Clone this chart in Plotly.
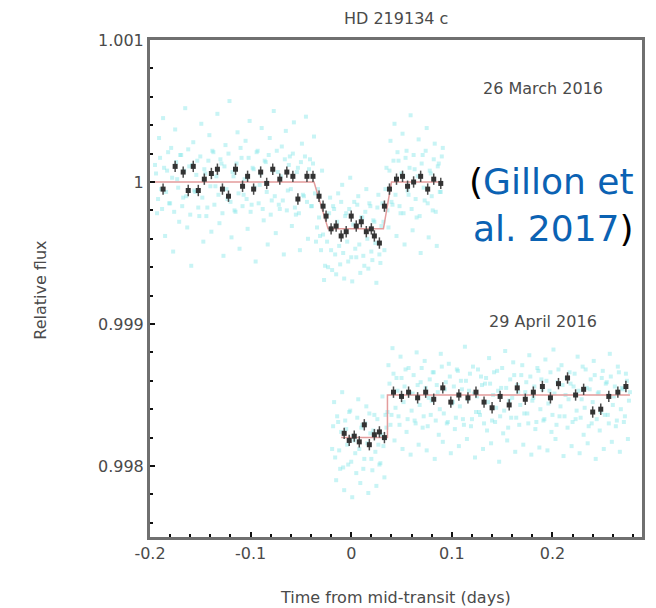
import plotly.graph_objects as go

# ---------------- data ----------------
# 26 March 2016: unbinned photometry (cyan), two interleaved exposure sets
t1_raw_x = [-0.195,-0.193,-0.191,-0.189,-0.187,-0.185,-0.183,-0.181,-0.179,-0.177,-0.175,-0.173,
            -0.171,-0.169,-0.167,-0.165,-0.163,-0.161,-0.159,-0.157,-0.155,-0.153,-0.151,-0.149,
            -0.147,-0.145,-0.143,-0.141,-0.139,-0.137,-0.135,-0.133,-0.131,-0.129,-0.127,-0.125,
            -0.123,-0.121,-0.119,-0.117,-0.115,-0.113,-0.111,-0.109,-0.107,-0.105,-0.103,-0.101,
            -0.099,-0.097,-0.095,-0.093,-0.091,-0.089,-0.087,-0.085,-0.083,-0.081,-0.079,-0.077,
            -0.075,-0.073,-0.071,-0.069,-0.067,-0.065,-0.063,-0.061,-0.059,-0.057,-0.055,-0.053,
            -0.051,-0.049,-0.047,-0.045,-0.043,-0.041,-0.039,-0.037,-0.035,-0.033,-0.031,-0.029,
            -0.027,-0.025,-0.023,-0.021,-0.019,-0.017,-0.015,-0.013,-0.011,-0.009,-0.007,-0.005,
            -0.003,-0.001,0.001,0.003,0.005,0.007,0.009,0.011,0.013,0.015,0.017,0.019,
            0.021,0.023,0.025,0.027,0.029,0.031,0.033,0.035,0.037,0.039,0.041,0.043,
            0.045,0.047,0.049,0.051,0.053,0.055,0.057,0.059,0.061,0.063,0.065,0.067,
            0.069,0.071,0.073,0.075,0.077,0.079,0.081,0.083,0.085,0.087,0.089,0.091]
t1_raw_y = [1.00012,0.99978,1.00031,0.99995,1.00045,0.99962,1.00008,0.99985,1.00024,0.99951,1.00037,1.00002,
            0.99972,1.00019,0.99989,1.00052,0.99968,1.00011,0.99941,1.00028,0.99993,1.00015,0.99976,1.00041,
            0.99958,1.00006,0.99982,1.00033,0.99965,1.00021,0.99997,1.00048,0.99971,1.00013,0.99948,1.00026,
            0.99988,1.00057,0.99961,1.00004,0.99979,1.00035,0.99953,1.00017,0.99991,1.00029,0.99967,1.00043,
            0.99984,1.00009,0.99944,1.00022,0.99998,1.00038,0.99973,1.00014,0.99956,1.00031,0.99987,1.00050,
            0.99964,1.00007,0.99981,1.00025,0.99949,1.00036,0.99994,1.00018,0.99969,1.00042,0.99977,1.00010,
            0.99952,1.00027,0.99990,1.00046,0.99960,1.00016,0.99983,1.00032,0.99958,0.99995,0.99962,1.00008,
            0.99931,0.99975,0.99940,0.99989,0.99938,0.99981,0.99935,0.99992,0.99942,0.99998,0.99932,0.99978,
            0.99944,1.00003,0.99930,0.99986,0.99947,0.99990,0.99936,0.99975,0.99941,0.99995,0.99939,0.99983,
            0.99945,0.99972,0.99929,0.99991,0.99943,0.99985,0.99952,1.00010,0.99968,1.00029,0.99984,1.00041,
            0.99962,1.00015,0.99978,1.00034,0.99956,1.00022,0.99991,1.00047,0.99966,1.00009,0.99975,1.00030,
            0.99950,1.00019,0.99987,1.00038,0.99961,1.00006,0.99980,1.00027,0.99955,1.00013,0.99993,1.00024]
t1_raw2_x = [-0.194,-0.192,-0.190,-0.188,-0.186,-0.184,-0.182,-0.180,-0.178,-0.176,-0.174,-0.172,
             -0.170,-0.168,-0.166,-0.164,-0.162,-0.160,-0.158,-0.156,-0.154,-0.152,-0.150,-0.148,
             -0.146,-0.144,-0.142,-0.140,-0.138,-0.136,-0.134,-0.132,-0.130,-0.128,-0.126,-0.124,
             -0.122,-0.120,-0.118,-0.116,-0.114,-0.112,-0.110,-0.108,-0.106,-0.104,-0.102,-0.100,
             -0.098,-0.096,-0.094,-0.092,-0.090,-0.088,-0.086,-0.084,-0.082,-0.080,-0.078,-0.076,
             -0.074,-0.072,-0.070,-0.068,-0.066,-0.064,-0.062,-0.060,-0.058,-0.056,-0.054,-0.052,
             -0.050,-0.048,-0.046,-0.044,-0.042,-0.040,-0.038,-0.036,-0.034,-0.032,-0.030,-0.028,
             -0.026,-0.024,-0.022,-0.020,-0.018,-0.016,-0.014,-0.012,-0.010,-0.008,-0.006,-0.004,
             -0.002,0.000,0.002,0.004,0.006,0.008,0.010,0.012,0.014,0.016,0.018,0.020,
             0.022,0.024,0.026,0.028,0.030,0.032,0.034,0.036,0.038,0.040,0.042,0.044,
             0.046,0.048,0.050,0.052,0.054,0.056,0.058,0.060,0.062,0.064,0.066,0.068,
             0.070,0.072,0.074,0.076,0.078,0.080,0.082,0.084,0.086,0.088,0.090]
t1_raw2_y = [1.00006,0.99988,1.00017,0.99981,1.00010,0.99993,1.00021,0.99985,1.00003,0.99979,1.00014,0.99996,
             1.00019,0.99983,1.00008,0.99990,1.00023,0.99977,1.00012,0.99994,1.00005,0.99982,1.00018,0.99989,
             1.00009,0.99976,1.00015,0.99997,1.00022,0.99984,1.00004,0.99991,1.00016,0.99978,1.00011,0.99995,
             1.00020,0.99986,1.00007,0.99980,1.00013,0.99992,1.00024,0.99983,1.00002,0.99988,1.00017,0.99979,
             1.00010,0.99996,1.00021,0.99985,1.00006,0.99981,1.00015,0.99993,1.00019,0.99977,1.00008,0.99990,
             1.00022,0.99984,1.00004,0.99987,1.00016,0.99980,1.00012,0.99995,1.00020,0.99982,1.00007,0.99978,
             1.00014,0.99991,1.00018,0.99986,1.00009,0.99983,1.00013,0.99992,0.99968,0.99975,0.99952,0.99963,
             0.99941,0.99958,0.99978,0.99952,0.99983,0.99949,0.99972,0.99955,0.99986,0.99950,0.99976,0.99958,
             0.99981,0.99947,0.99970,0.99953,0.99984,0.99956,0.99975,0.99948,0.99979,0.99960,0.99985,0.99951,
             0.99973,0.99957,0.99982,0.99949,0.99969,0.99972,0.99995,0.99980,1.00008,0.99986,1.00015,0.99991,
             1.00021,0.99983,1.00006,0.99978,1.00017,0.99994,1.00010,0.99981,1.00019,0.99988,1.00004,0.99976,
             1.00013,0.99996,1.00022,0.99985,1.00008,0.99990,1.00016,0.99979,1.00011,0.99993,1.00018]

# 26 March 2016: binned photometry (black)
t1_bin_x = [-0.187,-0.175,-0.167,-0.162,-0.157,-0.152,-0.146,-0.139,-0.133,-0.128,-0.122,-0.115,
            -0.108,-0.103,-0.097,-0.090,-0.084,-0.078,-0.071,-0.064,-0.058,-0.053,-0.044,-0.038,
            -0.032,-0.028,-0.025,-0.020,-0.015,-0.010,-0.005,0.000,0.005,0.010,0.015,0.020,
            0.023,0.028,0.033,0.038,0.045,0.051,0.056,0.062,0.069,0.076,0.082,0.089]
t1_bin_y = [0.99995,1.00011,1.00007,0.99994,1.00011,0.99994,1.00002,1.00006,1.00009,0.99995,0.99990,1.00009,
            0.99997,1.00004,0.99995,1.00007,0.99999,1.00009,1.00002,1.00007,1.00004,0.99988,1.00004,1.00004,
            0.99990,0.99983,0.99976,0.99967,0.99969,0.99962,0.99965,0.99976,0.99969,0.99972,0.99965,0.99967,
            0.99962,0.99957,0.99983,0.99995,1.00002,1.00004,0.99997,1.00000,1.00004,0.99995,1.00002,0.99999]

# 26 March 2016: transit model
t1_model_x = [-0.195, -0.037, -0.023, 0.032, 0.040, 0.091]
t1_model_y = [1.00000, 1.00000, 0.99967, 0.99967, 1.00000, 1.00000]

# 29 April 2016: unbinned photometry (cyan), two interleaved exposure sets
t2_raw_x = [-0.019,-0.017,-0.015,-0.013,-0.011,-0.009,-0.007,-0.005,-0.003,-0.001,0.001,0.003,
            0.005,0.007,0.009,0.011,0.013,0.015,0.017,0.019,0.021,0.023,0.025,0.027,
            0.029,0.031,0.033,0.035,0.037,0.039,0.041,0.043,0.045,0.047,0.049,0.051,
            0.053,0.055,0.057,0.059,0.061,0.063,0.065,0.067,0.069,0.071,0.073,0.075,
            0.077,0.079,0.081,0.083,0.085,0.087,0.089,0.091,0.093,0.095,0.097,0.099,
            0.101,0.103,0.105,0.107,0.109,0.111,0.113,0.115,0.117,0.119,0.121,0.123,
            0.125,0.127,0.129,0.131,0.133,0.135,0.137,0.139,0.141,0.143,0.145,0.147,
            0.149,0.151,0.153,0.155,0.157,0.159,0.161,0.163,0.165,0.167,0.169,0.171,
            0.173,0.175,0.177,0.179,0.181,0.183,0.185,0.187,0.189,0.191,0.193,0.195,
            0.197,0.199,0.201,0.203,0.205,0.207,0.209,0.211,0.213,0.215,0.217,0.219,
            0.221,0.223,0.225,0.227,0.229,0.231,0.233,0.235,0.237,0.239,0.241,0.243,
            0.245,0.247,0.249,0.251,0.253,0.255,0.257,0.259,0.261,0.263,0.265,0.267,
            0.269,0.271,0.273,0.275,0.277]
t2_raw_y = [0.99812,0.99845,0.99790,0.99831,0.99798,0.99852,0.99783,0.99826,0.99801,0.99839,0.99778,0.99818,
            0.99795,0.99847,0.99788,0.99829,0.99805,0.99842,0.99781,0.99823,0.99797,0.99836,0.99786,0.99815,
            0.99802,0.99849,0.99792,0.99827,0.99871,0.99829,0.99883,0.99818,0.99862,0.99835,0.99877,0.99812,
            0.99856,0.99824,0.99869,0.99808,0.99851,0.99832,0.99880,0.99815,0.99859,0.99827,0.99874,0.99811,
            0.99848,0.99836,0.99866,0.99805,0.99857,0.99822,0.99879,0.99817,0.99854,0.99830,0.99872,0.99809,
            0.99845,0.99826,0.99868,0.99814,0.99860,0.99833,0.99884,0.99819,0.99853,0.99828,0.99870,0.99806,
            0.99849,0.99838,0.99863,0.99812,0.99858,0.99825,0.99876,0.99816,0.99850,0.99831,0.99867,0.99803,
            0.99855,0.99823,0.99881,0.99818,0.99846,0.99834,0.99873,0.99810,0.99857,0.99829,0.99864,0.99815,
            0.99852,0.99837,0.99878,0.99808,0.99848,0.99826,0.99869,0.99813,0.99861,0.99832,0.99875,0.99811,
            0.99853,0.99824,0.99882,0.99819,0.99859,0.99835,0.99871,0.99807,0.99850,0.99827,0.99866,0.99814,
            0.99856,0.99833,0.99877,0.99809,0.99847,0.99822,0.99868,0.99816,0.99854,0.99830,0.99874,0.99805,
            0.99851,0.99825,0.99862,0.99812,0.99858,0.99836,0.99879,0.99817,0.99849,0.99828,0.99870,0.99810,
            0.99855,0.99831,0.99865,0.99819,0.99852]
t2_raw2_x = [-0.018,-0.016,-0.014,-0.012,-0.010,-0.008,-0.006,-0.004,-0.002,0.000,0.002,0.004,
             0.006,0.008,0.010,0.012,0.014,0.016,0.018,0.020,0.022,0.024,0.026,0.028,
             0.030,0.032,0.034,0.036,0.038,0.040,0.042,0.044,0.046,0.048,0.050,0.052,
             0.054,0.056,0.058,0.060,0.062,0.064,0.066,0.068,0.070,0.072,0.074,0.076,
             0.078,0.080,0.082,0.084,0.086,0.088,0.090,0.092,0.094,0.096,0.098,0.100,
             0.102,0.104,0.106,0.108,0.110,0.112,0.114,0.116,0.118,0.120,0.122,0.124,
             0.126,0.128,0.130,0.132,0.134,0.136,0.138,0.140,0.142,0.144,0.146,0.148,
             0.150,0.152,0.154,0.156,0.158,0.160,0.162,0.164,0.166,0.168,0.170,0.172,
             0.174,0.176,0.178,0.180,0.182,0.184,0.186,0.188,0.190,0.192,0.194,0.196,
             0.198,0.200,0.202,0.204,0.206,0.208,0.210,0.212,0.214,0.216,0.218,0.220,
             0.222,0.224,0.226,0.228,0.230,0.232,0.234,0.236,0.238,0.240,0.242,0.244,
             0.246,0.248,0.250,0.252,0.254,0.256,0.258,0.260,0.262,0.264,0.266,0.268,
             0.270,0.272,0.274,0.276]
t2_raw2_y = [0.99828,0.99806,0.99835,0.99811,0.99824,0.99799,0.99832,0.99815,0.99838,0.99803,0.99821,0.99809,
             0.99834,0.99812,0.99827,0.99798,0.99830,0.99816,0.99837,0.99805,0.99825,0.99810,0.99833,0.99801,
             0.99822,0.99814,0.99836,0.99838,
             0.99858,0.99836,0.99865,0.99841,0.99853,0.99829,0.99862,0.99845,0.99868,0.99833,
             0.99851,0.99839,0.99864,0.99830,0.99857,0.99843,0.99869,0.99835,0.99855,0.99828,
             0.99861,0.99846,0.99866,0.99832,0.99852,0.99840,0.99870,0.99837,0.99859,0.99831,
             0.99863,0.99844,0.99856,0.99834,0.99867,0.99842,0.99854,0.99829,0.99860,0.99847,
             0.99865,0.99833,0.99851,0.99838,0.99868,0.99836,0.99857,0.99830,0.99862,0.99845,
             0.99858,0.99832,0.99866,0.99841,0.99853,0.99835,0.99869,0.99839,0.99855,0.99827,
             0.99861,0.99848,0.99864,0.99834,0.99852,0.99843,0.99871,0.99837,0.99859,0.99830,
             0.99863,0.99846,0.99856,0.99831,0.99867,0.99840,0.99854,0.99833,0.99860,0.99844,
             0.99866,0.99836,0.99851,0.99829,0.99868,0.99842,0.99857,0.99835,0.99862,0.99847,
             0.99858,0.99831,0.99865,0.99839,0.99853,0.99834,0.99870,0.99841,0.99855,0.99828,
             0.99861,0.99845,0.99864,0.99833,0.99852,0.99838,0.99867,0.99836,0.99859,0.99830,
             0.99863,0.99843,0.99856,0.99832,0.99866,0.99840,0.99854,0.99835,0.99860,0.99846]

# 29 April 2016: binned photometry (black)
t2_bin_x = [-0.007,-0.002,0.003,0.008,0.013,0.018,0.023,0.028,0.033,
            0.042,0.050,0.057,0.066,0.074,0.082,0.091,0.099,0.107,0.116,0.124,0.132,
            0.140,0.148,0.157,0.165,0.173,0.181,0.190,0.198,0.206,0.215,0.223,0.231,
            0.240,0.248,0.256,0.265,0.273]
t2_bin_y = [0.99823,0.99818,0.99821,0.99817,0.99829,0.99815,0.99822,0.99824,0.99820,
            0.99852,0.99849,0.99852,0.99848,0.99852,0.99847,0.99855,0.99845,0.99850,0.99848,0.99852,0.99845,
            0.99841,0.99849,0.99843,0.99855,0.99847,0.99852,0.99856,0.99848,0.99858,0.99862,0.99850,0.99854,
            0.99838,0.99840,0.99849,0.99852,0.99856]

# 29 April 2016: transit model
t2_model_x = [-0.010, 0.036, 0.036, 0.277]
t2_model_y = [0.99820, 0.99820, 0.99850, 0.99850]

bin_err = 0.00004

x_tick_vals = [-0.2, -0.1, 0.0, 0.1, 0.2]
x_tick_text = ["-0.2", "-0.1", "0", "0.1", "0.2"]
y_tick_vals = [0.998, 0.999, 1.000, 1.001]
y_tick_text = ["0.998", "0.999", "1", "1.001"]

# ---------------- figure ----------------
RAW = "rgba(125,228,232,0.42)"
MODEL = "#e39c9c"
BIN = "#333333"

fig = go.Figure()
for rx, ry in [(t1_raw_x, t1_raw_y), (t1_raw2_x, t1_raw2_y),
               (t2_raw_x, t2_raw_y), (t2_raw2_x, t2_raw2_y)]:
    fig.add_trace(go.Scatter(x=rx, y=ry, mode="markers",
                             marker=dict(color=RAW, size=4, symbol="square", line=dict(width=0)),
                             hoverinfo="skip"))
for mx, my in [(t1_model_x, t1_model_y), (t2_model_x, t2_model_y)]:
    fig.add_trace(go.Scatter(x=mx, y=my, mode="lines",
                             line=dict(color=MODEL, width=1.5), hoverinfo="skip"))
for bx, by in [(t1_bin_x, t1_bin_y), (t2_bin_x, t2_bin_y)]:
    fig.add_trace(go.Scatter(x=bx, y=by, mode="markers",
                             marker=dict(color=BIN, size=5, symbol="square", line=dict(width=0)),
                             error_y=dict(type="constant", value=bin_err, color="#4d4d4d",
                                          thickness=1.5, width=0)))

TXT = "#4a4a4a"
FONT = "DejaVu Sans"

# page has an 8px body margin, so the figure is 8px smaller and shifted accordingly
fig.update_layout(
    width=648, height=600,
    margin=dict(l=142, r=11, t=32, b=71),
    paper_bgcolor="white", plot_bgcolor="white",
    showlegend=False,
    font=dict(family=FONT, size=16, color=TXT),
    xaxis=dict(range=[-0.2, 0.289], tickmode="array", tickvals=x_tick_vals, ticktext=x_tick_text,
               ticks="inside", ticklen=5, tickwidth=2, tickcolor="#111111",
               minor=dict(tickmode="linear", tick0=-0.2, dtick=0.02, ticks="inside",
                          ticklen=3, tickwidth=2, tickcolor="#111111", showgrid=False),
               showline=True, linecolor="#707070", linewidth=3, mirror=True,
               showgrid=False, zeroline=False,
               tickfont=dict(family=FONT, size=16, color=TXT)),
    yaxis=dict(range=[0.9975, 1.001], tickmode="array", tickvals=y_tick_vals, ticktext=y_tick_text,
               ticks="inside", ticklen=5, tickwidth=2, tickcolor="#111111",
               minor=dict(tickmode="linear", tick0=0.998, dtick=0.0002, ticks="inside",
                          ticklen=3, tickwidth=2, tickcolor="#111111", showgrid=False),
               showline=True, linecolor="#707070", linewidth=3, mirror=True,
               showgrid=False, zeroline=False,
               tickfont=dict(family=FONT, size=16, color=TXT)),
)

annots = [
    dict(text="HD 219134 c", x=0.499, y=1.044),
    dict(text="26 March 2016", x=0.798, y=0.903),
    dict(text="29 April 2016", x=0.798, y=0.433),
    dict(text="Time from mid-transit (days)", x=0.499, y=-0.121),
]
for a in annots:
    fig.add_annotation(text=a["text"], xref="paper", yref="paper", x=a["x"], y=a["y"],
                       xanchor="center", yanchor="middle", showarrow=False,
                       font=dict(family=FONT, size=16, color=TXT))
fig.add_annotation(text="Relative flux", xref="paper", yref="paper", x=-0.222, y=0.497,
                   xanchor="center", yanchor="middle", showarrow=False, textangle=-90,
                   font=dict(family=FONT, size=16, color=TXT))

BLUE = "#0b62b3"
fig.add_annotation(text=("(<span style='color:%s'>Gillon et</span><br>"
                         "<span style='color:%s'>al. 2017</span>)") % (BLUE, BLUE),
                   xref="paper", yref="paper", x=0.988, y=0.668, xanchor="right", yanchor="middle",
                   align="right", showarrow=False,
                   font=dict(family="DejaVu Sans", size=36, color="black"))

fig.write_html("out.html")
